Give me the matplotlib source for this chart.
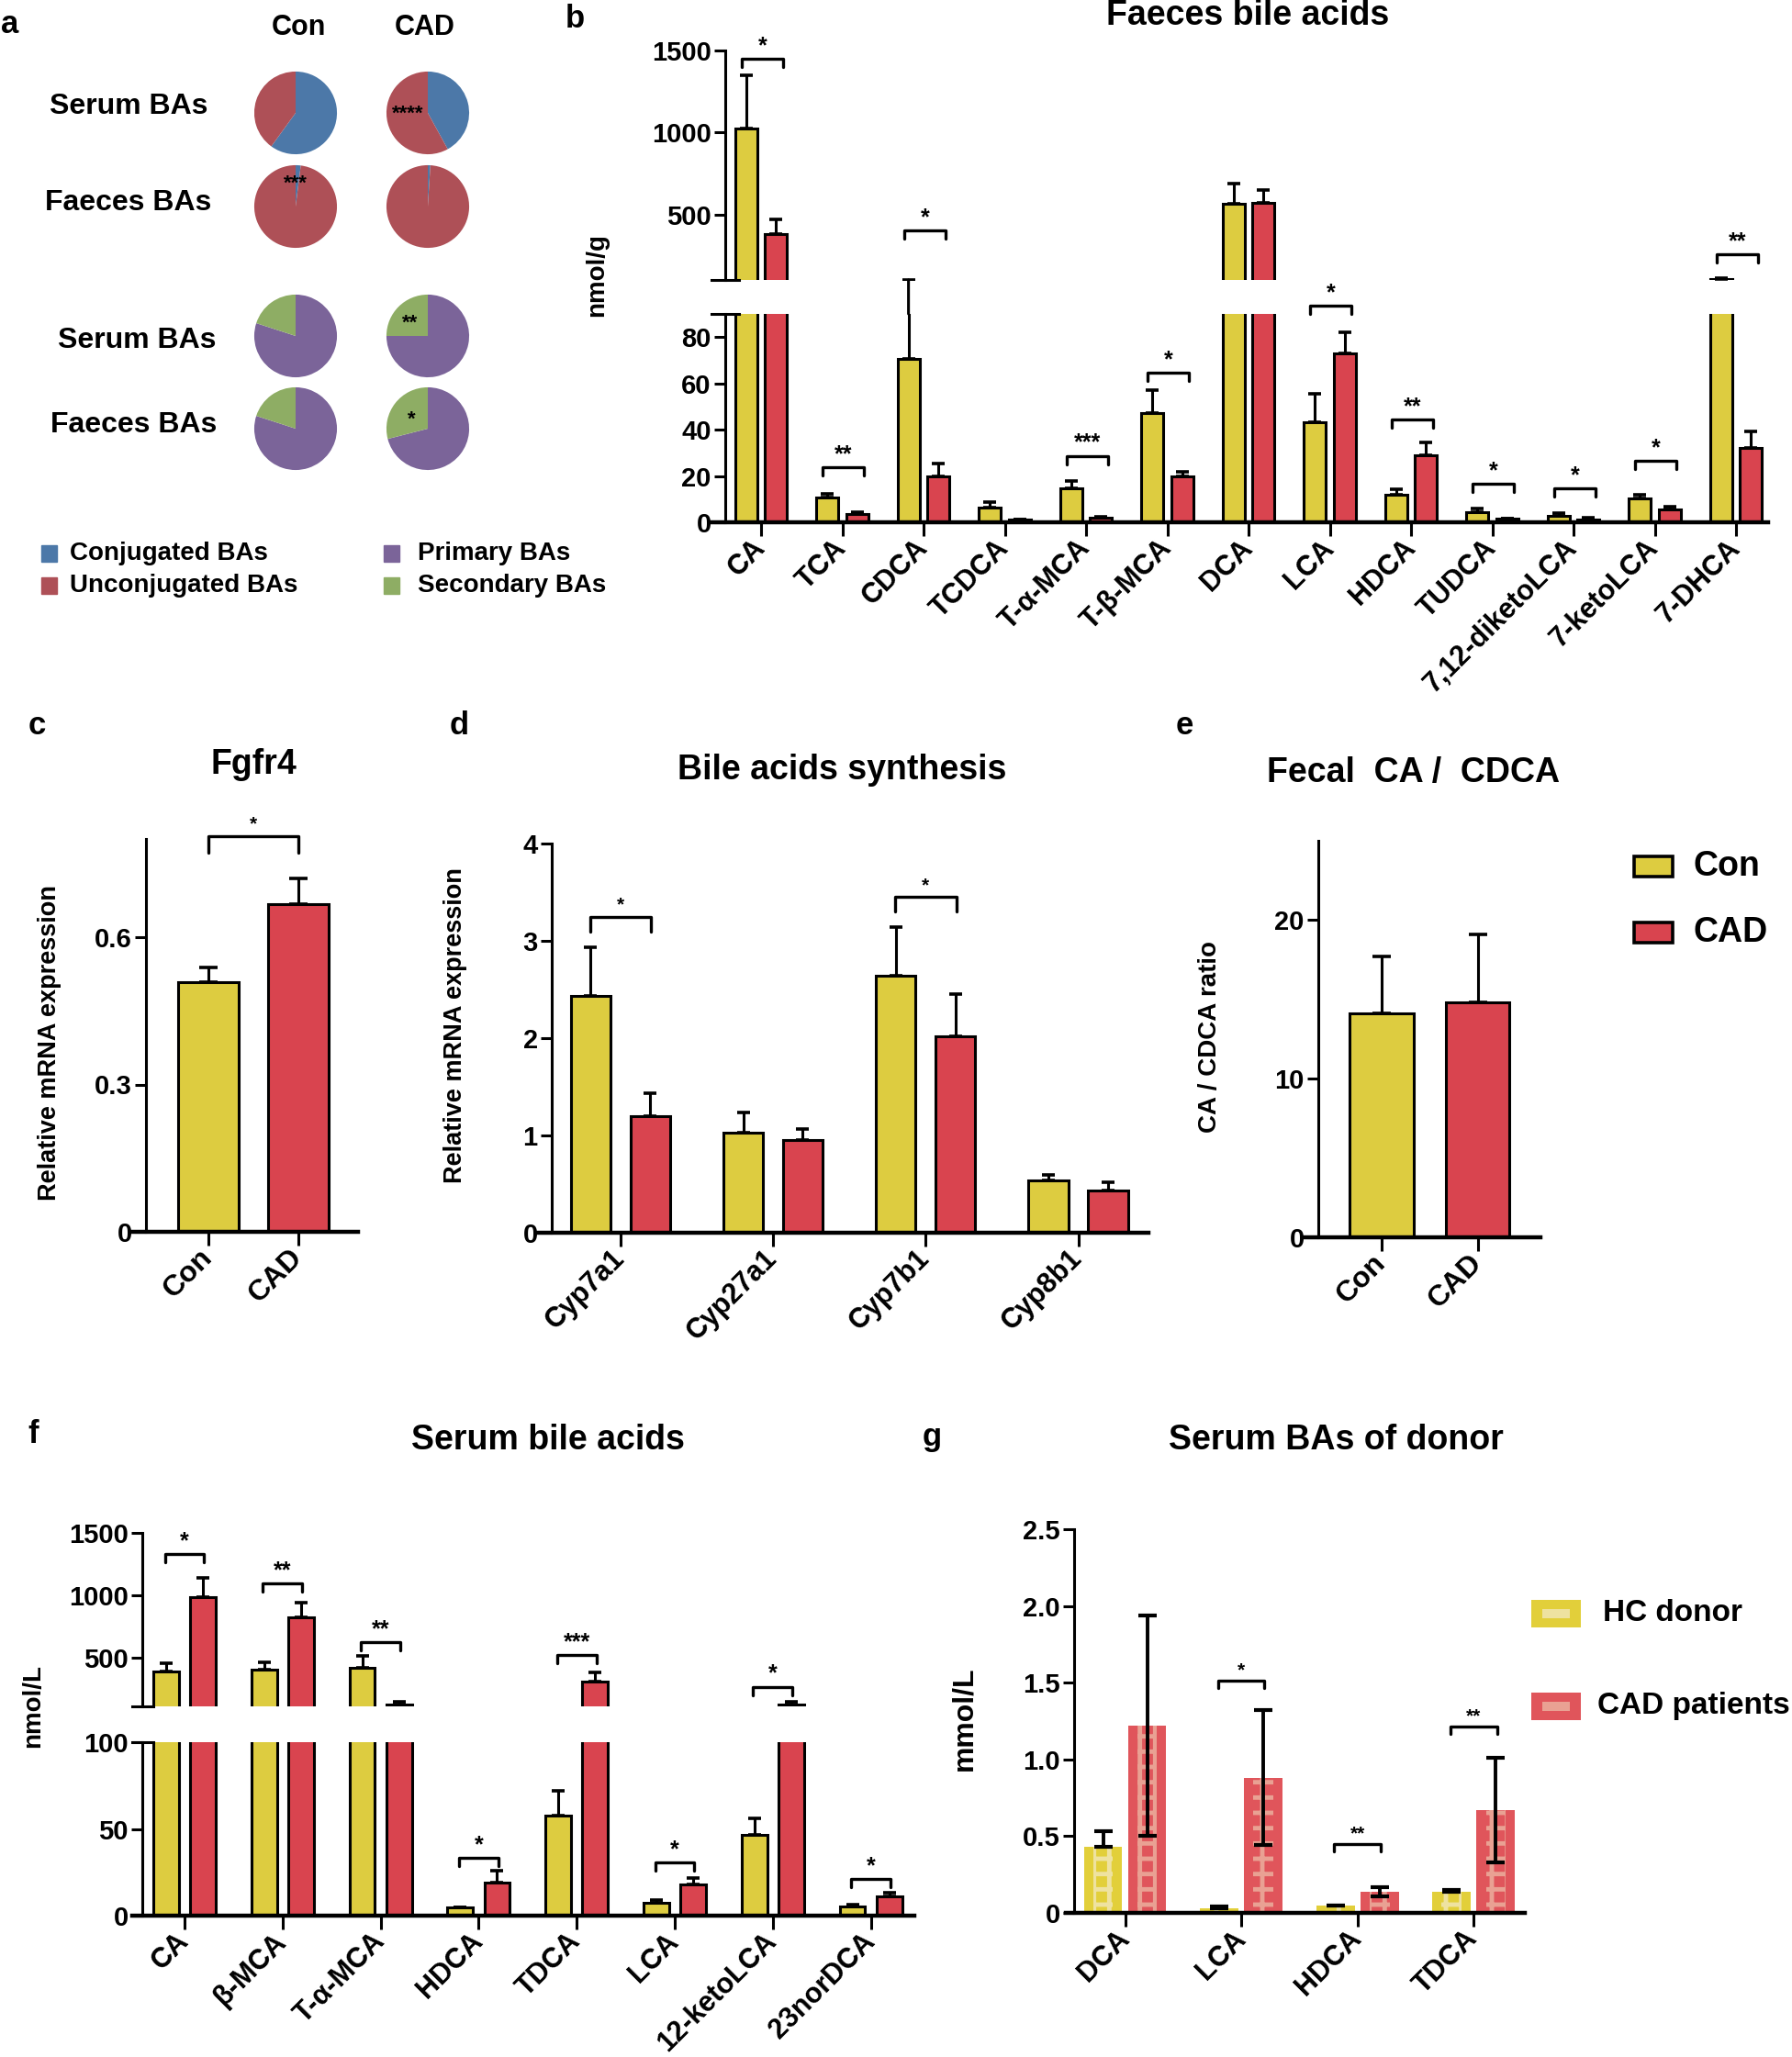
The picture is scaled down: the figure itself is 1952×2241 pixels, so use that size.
import numpy as np
import matplotlib
matplotlib.use("Agg")
import matplotlib.pyplot as plt
from matplotlib.patches import Rectangle, ConnectionPatch

plt.rcParams['font.family'] = ['Liberation Sans', 'DejaVu Sans']
plt.rcParams['font.weight'] = 'bold'
plt.rcParams['hatch.linewidth'] = 3.5

W, H = 1952, 2241
YEL = '#DDCC40'
RED = '#D9444F'

# ---------------- data ----------------
# a: pie percentages (Con, CAD)
conj_serum = [60, 42]
conj_faeces = [2, 1]
sec_serum = [20, 25]
sec_faeces = [20, 29]

# b: faeces bile acids (nmol/g)
b_cats = ['CA', 'TCA', 'CDCA', 'TCDCA', 'T-α-MCA', 'T-β-MCA', 'DCA', 'LCA',
          'HDCA', 'TUDCA', '7,12-diketoLCA', '7-ketoLCA', '7-DHCA']
b_con = [1022, 10.7, 70.5, 6.2, 14.6, 47, 564, 43.1, 11.7, 4.3, 2.9, 10.3, 108]
b_con_err = [325, 1.5, 31.5, 2.7, 3.3, 10, 125, 12.4, 2.5, 1.5, 1.0, 1.7, 6]
b_cad = [378, 3.7, 20, 1.0, 2.0, 19.8, 569, 72.8, 29.1, 1.4, 1.3, 5.4, 32]
b_cad_err = [89, 0.6, 5.2, 0.3, 0.5, 2.2, 78, 9.1, 5.3, 0.3, 0.7, 1.2, 7.2]
b_sig = ['*', '**', '*', '', '***', '*', '', '*', '**', '*', '*', '*', '**']
b_sig_y = [1450, 23.7, 400, 0, 28.7, 64.5, 0, 93.5, 44.3, 16.5, 14.6, 26.4, 258]

# c: Fgfr4
c_cats = ['Con', 'CAD']
c_vals = [0.509, 0.667]
c_err = [0.029, 0.053]

# d: bile acid synthesis genes
d_cats = ['Cyp7a1', 'Cyp27a1', 'Cyp7b1', 'Cyp8b1']
d_con = [2.43, 1.03, 2.64, 0.54]
d_con_err = [0.50, 0.21, 0.50, 0.05]
d_cad = [1.20, 0.95, 2.02, 0.43]
d_cad_err = [0.23, 0.12, 0.43, 0.09]
d_sig = ['*', '', '*', '']
d_sig_y = [3.25, 0, 3.45, 0]

# e: fecal CA/CDCA ratio
e_cats = ['Con', 'CAD']
e_vals = [14.1, 14.8]
e_err = [3.6, 4.3]

# f: serum bile acids (nmol/L)
f_cats = ['CA', 'β-MCA', 'T-α-MCA', 'HDCA', 'TDCA', 'LCA', '12-ketoLCA', '23norDCA']
f_con = [392, 402, 419, 4.6, 57.8, 7.6, 46.6, 5.4]
f_con_err = [61, 61, 94, 0.4, 13.9, 1.2, 9.3, 0.9]
f_cad = [988, 823, 122, 19.3, 311, 18, 125, 11.2]
f_cad_err = [155, 115, 23, 6.6, 68, 3.7, 24, 2.0]
f_sig = ['*', '**', '**', '*', '***', '*', '*', '*']
f_sig_y = [1328, 1096, 625, 33.4, 520, 30.5, 268, 21.2]

# g: serum BAs of donor (mmol/L)
g_cats = ['DCA', 'LCA', 'HDCA', 'TDCA']
g_hc = [0.43, 0.03, 0.045, 0.14]
g_hc_err = [0.10, 0.01, 0.005, 0.01]
g_cad = [1.22, 0.88, 0.14, 0.67]
g_cad_err = [0.72, 0.44, 0.03, 0.34]
g_sig = ['', '*', '**', '**']
g_sig_y = [0, 1.513, 0.449, 1.213]

fig = plt.figure(figsize=(W / 100, H / 100), dpi=100)


def add_ax(x0, y0, x1, y1):
    return fig.add_axes([x0 / W, 1 - y1 / H, (x1 - x0) / W, (y1 - y0) / H])


def T(x, y, s, size=22, **kw):
    kw.setdefault('ha', 'center')
    kw.setdefault('va', 'center')
    fig.text(x / W, 1 - y / H, s, fontsize=size, fontweight='bold', **kw)


def style(ax, xlim, ylim, yfrac, bottom=True):
    ax.set_xlim(xlim)
    ax.set_ylim(ylim)
    ax.spines['top'].set_visible(False)
    ax.spines['right'].set_visible(False)
    ax.spines['left'].set_position(('axes', yfrac))
    ax.spines['left'].set_linewidth(2.2)
    ax.tick_params(axis='y', direction='out', length=9, width=2.2, labelsize=21, pad=2)
    if bottom:
        ax.spines['bottom'].set_linewidth(3.2)
        ax.tick_params(axis='x', direction='out', length=11, width=2.2, labelsize=22, pad=6)
    else:
        ax.spines['bottom'].set_visible(False)
        ax.tick_params(axis='x', bottom=False, labelbottom=False)
    ax.patch.set_alpha(0)


def bars(ax, x, vals, errs, color, width):
    ax.bar(x, vals, width, color=color, edgecolor='black', linewidth=2.2, zorder=2)
    ax.errorbar(x, vals, yerr=[np.zeros(len(vals)), errs], fmt='none', ecolor='black',
                elinewidth=2.2, capsize=5, capthick=2.6, zorder=1)


def gap_lines(ax_up, ax_lo, x, vals, errs):
    # error bars that run from the lower segment into the upper one
    lo_top = ax_lo.get_ylim()[1]
    up_bot = ax_up.get_ylim()[0]
    for xi, v, e in zip(x, vals, errs):
        if v < lo_top and v + e > up_bot:
            cp = ConnectionPatch((xi, lo_top), (xi, up_bot), 'data', 'data',
                                 axesA=ax_lo, axesB=ax_up, color='black', lw=2.2)
            fig.add_artist(cp)


def bracket(ax, x1, x2, y, txt, drop_px=9, fs=18, lw=2.4):
    y0, y1 = ax.get_ylim()
    hpx = ax.get_position().height * H
    d = drop_px * (y1 - y0) / hpx
    ax.plot([x1, x1, x2, x2], [y - d, y, y, y - d], color='black', lw=lw,
            clip_on=False, zorder=4, solid_capstyle='round')
    ax.text((x1 + x2) / 2, y + d * 0.2, txt, ha='center', va='bottom', fontsize=fs,
            fontweight='bold', clip_on=False)


def xlabels(ax, cats, size=22):
    ax.set_xticks(range(len(cats)))
    ax.set_xticklabels(cats, rotation=45, ha='right', va='center',
                       rotation_mode='anchor', fontsize=size, fontweight='bold')


def break_marks(ax_up, ax_lo, frac):
    ax_up.plot([0, frac], [0, 0], transform=ax_up.transAxes, color='black', lw=2.2, clip_on=False)
    ax_lo.plot([0, frac], [1, 1], transform=ax_lo.transAxes, color='black', lw=2.2, clip_on=False)


# ---------------- panel a: pies ----------------
BLUE, BRED, PURP, GREEN = '#4C78A8', '#AE5057', '#7B6499', '#8EAD64'
pie_cx = [322, 466]
pie_cy = [123, 225, 366, 467]
pie_sets = [
    ([[c, 100 - c] for c in conj_serum], [BLUE, BRED]),
    ([[c, 100 - c] for c in conj_faeces], [BLUE, BRED]),
    ([[100 - s, s] for s in sec_serum], [PURP, GREEN]),
    ([[100 - s, s] for s in sec_faeces], [PURP, GREEN]),
]
for r, (vals_list, cols) in enumerate(pie_sets):
    for k, vals in enumerate(vals_list):
        cx, cy = pie_cx[k], pie_cy[r]
        pa = fig.add_axes([(cx - 50) / W, 1 - (cy + 50) / H, 100 / W, 100 / H])
        pa.pie(vals, colors=cols, startangle=90, counterclock=False, radius=1)
        pa.set_xlim(-1.11, 1.11)
        pa.set_ylim(-1.11, 1.11)
        pa.set_aspect('equal')
        pa.axis('off')

T(444, 124, '****', 16)
T(322, 200, '***', 16)
T(447, 352, '**', 16)
T(448, 457, '*', 16)
T(325, 30, 'Con', 22)
T(463, 30, 'CAD', 22)
for (x, y), s in zip([(140, 116), (140, 221), (149, 371), (146, 463)],
                     ['Serum BAs', 'Faeces BAs', 'Serum BAs', 'Faeces BAs']):
    T(x, y, s, 23)
for (x, y), s, col in zip([(45, 603), (45, 638), (418, 603), (418, 638)],
                          ['Conjugated BAs', 'Unconjugated BAs', 'Primary BAs', 'Secondary BAs'],
                          [BLUE, BRED, PURP, GREEN]):
    fig.add_artist(Rectangle((x / W, 1 - (y + 9) / H), 17 / W, 18 / H, color=col,
                             transform=fig.transFigure))
    T(x + 31 if x < 100 else x + 37, y, s, 20, ha='left')

# ---------------- panel b ----------------
bx = np.arange(len(b_cats))
bfrac = (790 - 775) / (1926 - 775)
bxlim = ((775 - 829) / 88.5, (1926 - 829) / 88.5)
b_up = add_ax(775, 55, 1926, 305)
b_lo = add_ax(775, 342, 1926, 569)
for ax in (b_up, b_lo):
    bars(ax, bx - 0.185, b_con, b_con_err, YEL, 0.27)
    bars(ax, bx + 0.185, b_cad, b_cad_err, RED, 0.27)
style(b_up, bxlim, (100, 1500), bfrac, bottom=False)
style(b_lo, bxlim, (0, 90), bfrac)
b_up.set_yticks([500, 1000, 1500])
b_lo.set_yticks([0, 20, 40, 60, 80])
xlabels(b_lo, b_cats)
break_marks(b_up, b_lo, 0.026)
gap_lines(b_up, b_lo, bx - 0.185, b_con, b_con_err)
gap_lines(b_up, b_lo, bx + 0.185, b_cad, b_cad_err)
for i, (s, y) in enumerate(zip(b_sig, b_sig_y)):
    if s:
        ax = b_up if y > 95 else b_lo
        bracket(ax, i - 0.24, i + 0.27, y, s)
T(1359, 17, 'Faeces bile acids', 27)
T(650, 300, 'nmol/g', 20, rotation=90)

# ---------------- panel c ----------------
ca = add_ax(143, 914, 390, 1342)
ca.bar([0, 1], c_vals, 0.67, color=[YEL, RED], edgecolor='black', linewidth=2.2, zorder=2)
ca.errorbar([0, 1], c_vals, yerr=[[0, 0], c_err], fmt='none', ecolor='black',
            elinewidth=2.2, capsize=7, capthick=2.6, zorder=1)
style(ca, (-0.857, 1.663), (0, 0.8), 16 / 247)
ca.set_yticks([0, 0.3, 0.6])
ca.set_yticklabels(['0', '0.3', '0.6'])
xlabels(ca, c_cats, 23)
bracket(ca, 0, 1, 0.806, '*', drop_px=18, fs=15)
T(276, 833, 'Fgfr4', 27)
T(54, 1136, 'Relative mRNA expression', 19.5, rotation=90)

# ---------------- panel d ----------------
dx = np.arange(len(d_cats))
da = add_ax(586, 919, 1251, 1343)
bars(da, dx - 0.195, d_con, d_con_err, YEL, 0.26)
bars(da, dx + 0.195, d_cad, d_cad_err, RED, 0.26)
style(da, (-0.54, 3.46), (0, 4), 15 / 665)
da.set_yticks([0, 1, 2, 3, 4])
xlabels(da, d_cats)
for i, (s, y) in enumerate(zip(d_sig, d_sig_y)):
    if s:
        bracket(da, i - 0.2, i + 0.2, y, s, drop_px=16, fs=15)
T(917, 839, 'Bile acids synthesis', 27)
T(496, 1117, 'Relative mRNA expression', 19.5, rotation=90)

# ---------------- panel e ----------------
ea = add_ax(1419, 916, 1678, 1348)
ea.bar([0, 1], e_vals, 0.66, color=[YEL, RED], edgecolor='black', linewidth=2.2, zorder=2)
ea.errorbar([0, 1], e_vals, yerr=[[0, 0], e_err], fmt='none', ecolor='black',
            elinewidth=2.2, capsize=7, capthick=2.6, zorder=1)
style(ea, (-0.82, 1.65), (0, 25), 17 / 259)
ea.set_yticks([0, 10, 20])
xlabels(ea, e_cats, 23)
T(1540, 842, 'Fecal  CA /  CDCA', 27)
T(1318, 1129, 'CA / CDCA ratio', 20, rotation=90)
for y, s, col in [(944, 'Con', YEL), (1016, 'CAD', RED)]:
    fig.add_artist(Rectangle((1780 / W, 1 - (y + 11) / H), 42 / W, 22 / H, facecolor=col,
                             edgecolor='black', linewidth=2.6, transform=fig.transFigure))
    T(1845, y, s, 27, ha='left')

# ---------------- panel f ----------------
fx = np.arange(len(f_cats))
ffrac = 11 / 852
fxlim = ((144 - 201) / 106.8, (996 - 201) / 106.8)
f_up = add_ax(144, 1670, 996, 1859)
f_lo = add_ax(144, 1898, 996, 2087)
for ax in (f_up, f_lo):
    bars(ax, fx - 0.188, f_con, f_con_err, YEL, 0.26)
    bars(ax, fx + 0.188, f_cad, f_cad_err, RED, 0.26)
style(f_up, fxlim, (110, 1500), ffrac, bottom=False)
style(f_lo, fxlim, (0, 100), ffrac)
f_up.set_yticks([500, 1000, 1500])
f_lo.set_yticks([0, 50, 100])
xlabels(f_lo, f_cats)
break_marks(f_up, f_lo, 0.027)
for i, (s, y) in enumerate(zip(f_sig, f_sig_y)):
    ax = f_up if y > 105 else f_lo
    bracket(ax, i - 0.2, i + 0.2, y, s)
T(597, 1569, 'Serum bile acids', 27)
T(36, 1858, 'nmol/L', 20, rotation=90)

# ---------------- panel g ----------------
GY, GR = '#E2CF3A', '#E0555B'
GY_L, GR_L = '#EEE2A0', '#E9A193'
gx = np.arange(len(g_cats))
ga = add_ax(1161, 1666, 1661, 2084)
for off, vals, errs, col, light, lower in [(-0.19, g_hc, g_hc_err, GY, GY_L, False),
                                           (0.19, g_cad, g_cad_err, GR, GR_L, True)]:
    ga.bar(gx + off, vals, 0.33, color=col, linewidth=0, zorder=2)
    ga.bar(gx + off, vals, 0.17, facecolor='none', edgecolor=light, hatch='+',
           linewidth=0, zorder=2)
    lo = errs if lower else np.zeros(len(errs))
    ga.errorbar(gx + off, vals, yerr=[lo, errs], fmt='none', ecolor='black',
                elinewidth=2.8, capsize=7, capthick=3, zorder=3)
style(ga, (-0.51, 3.44), (0, 2.5), 9 / 500)
ga.set_yticks([0, 0.5, 1.0, 1.5, 2.0, 2.5])
ga.set_yticklabels(['0', '0.5', '1.0', '1.5', '2.0', '2.5'])
xlabels(ga, g_cats)
for i, (s, y) in enumerate(zip(g_sig, g_sig_y)):
    if s:
        bracket(ga, i - 0.2, i + 0.2, y, s, drop_px=8, fs=15)
T(1455, 1569, 'Serum BAs of donor', 27)
T(1050, 1872, 'mmol/L', 23, rotation=90)
for y, s, col, light, tx in [(1758, 'HC donor', GY, GY_L, 1746), (1859, 'CAD patients', GR, GR_L, 1740)]:
    fig.add_artist(Rectangle((1668 / W, 1 - (y + 15) / H), 54 / W, 30 / H, facecolor=col,
                             linewidth=0, transform=fig.transFigure))
    fig.add_artist(Rectangle((1680 / W, 1 - (y + 5) / H), 30 / W, 10 / H, facecolor=light,
                             linewidth=0, transform=fig.transFigure))
    T(tx, y, s, 24, ha='left')

# panel letters
for (x, y), s in zip([(11, 26), (626, 21), (40, 790), (500, 790), (1290, 790), (36, 1562), (1015, 1565)],
                     'abcdefg'):
    T(x, y, s, 25)

fig.savefig('out.png', dpi=100)
